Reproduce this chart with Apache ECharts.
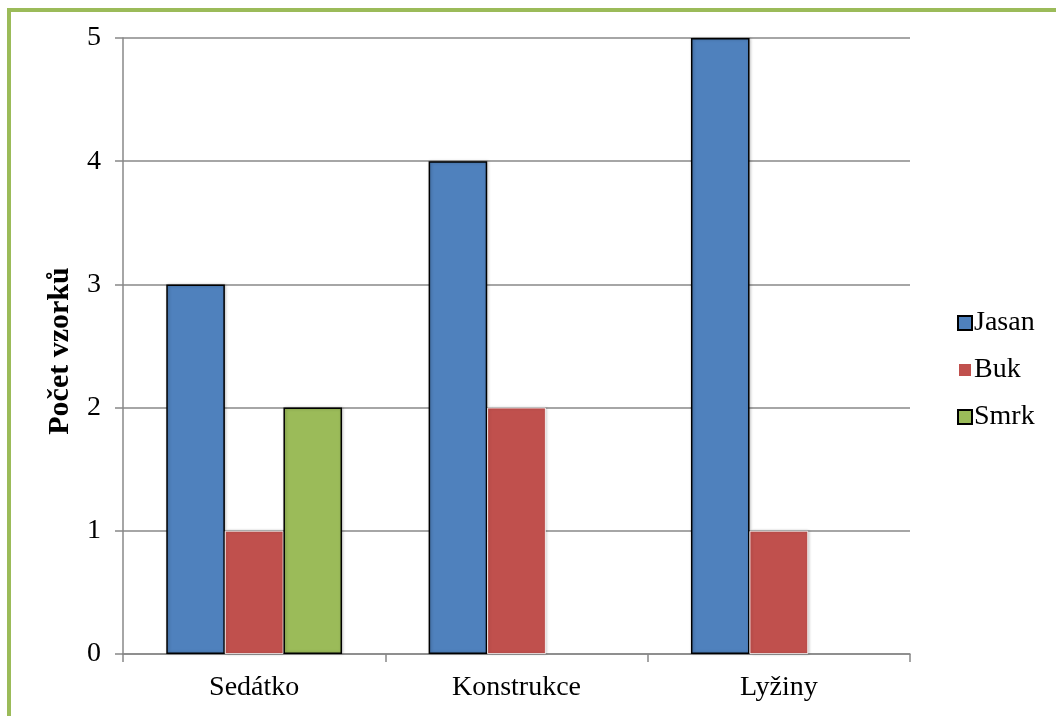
<!DOCTYPE html>
<html>
<head>
<meta charset="utf-8">
<script src="https://cdn.jsdelivr.net/npm/echarts@6/dist/echarts.min.js"></script>
<style>
  html, body { margin: 0; padding: 0; background: #fff; }
  #frame { position: absolute; left: 7px; top: 8px; width: 1049px; height: 708px;
           border-left: 4px solid #9BBB59; border-top: 4px solid #9BBB59; box-sizing: border-box; }
  #chart { position: absolute; left: 0; top: 0; width: 1056px; height: 716px; }
</style>
</head>
<body>
<div id="frame"></div>
<div id="chart"></div>
<script>
// Category names and sample counts per wood species
const categories = ['Sedátko', 'Konstrukce', 'Lyžiny'];
const jasan = [3, 4, 5];
const buk = [1, 2, 1];
const smrk = [2, null, null];
const yTicks = [0, 1, 2, 3, 4, 5];

const font = '"Liberation Serif", "Times New Roman", serif';
const fs = 28;

const chart = echarts.init(document.getElementById('chart'), null, { renderer: 'canvas' });

function barSeries(name, data, color, border) {
  return {
    name: name,
    type: 'bar',
    data: data,
    barGap: '0%',
    barCategoryGap: '33%',
    itemStyle: {
      color: color,
      borderColor: border ? '#000' : '#fff',
      borderWidth: border ? 1.5 : 0.8,
      shadowColor: 'rgba(0,0,0,0.25)',
      shadowBlur: 3,
      shadowOffsetX: 1
    }
  };
}

chart.setOption({
  animation: false,
  textStyle: { fontFamily: font },
  grid: { left: 123, right: 146, top: 38, bottom: 62 },
  legend: {
    orient: 'vertical',
    left: 952,
    top: 304,
    itemWidth: 14,
    itemHeight: 14,
    itemGap: 19,
    icon: 'rect',
    textStyle: { fontFamily: font, fontSize: fs, color: '#000', padding: [0, 0, 0, -3] },
    data: ['Jasan', 'Buk', 'Smrk']
  },
  xAxis: {
    type: 'category',
    data: categories,
    axisLine: { lineStyle: { color: '#888', width: 1.5 } },
    axisTick: { show: true, length: 8, lineStyle: { color: '#888', width: 1.5 } },
    axisLabel: { fontFamily: font, fontSize: fs, color: '#000', margin: 20 }
  },
  yAxis: {
    type: 'value',
    min: 0,
    max: 5,
    interval: 1,
    name: 'Počet vzorků',
    nameLocation: 'middle',
    nameGap: 48,
    nameTextStyle: { fontFamily: font, fontSize: 30, fontWeight: 'bold', color: '#000', padding: [0, 10, 0, 0] },
    axisLine: { show: true, lineStyle: { color: '#888', width: 1.5 } },
    axisTick: { show: true, length: 8, lineStyle: { color: '#888', width: 1.5 } },
    axisLabel: {
      fontFamily: font, fontSize: fs, color: '#000', margin: 22,
      formatter: v => yTicks.includes(v) ? String(v) : ''
    },
    splitLine: { lineStyle: { color: '#888', width: 1.5 } }
  },
  series: [
    barSeries('Jasan', jasan, '#4F81BD', true),
    barSeries('Buk', buk, '#C0504D', false),
    barSeries('Smrk', smrk, '#9BBB59', true)
  ]
});
</script>
</body>
</html>
